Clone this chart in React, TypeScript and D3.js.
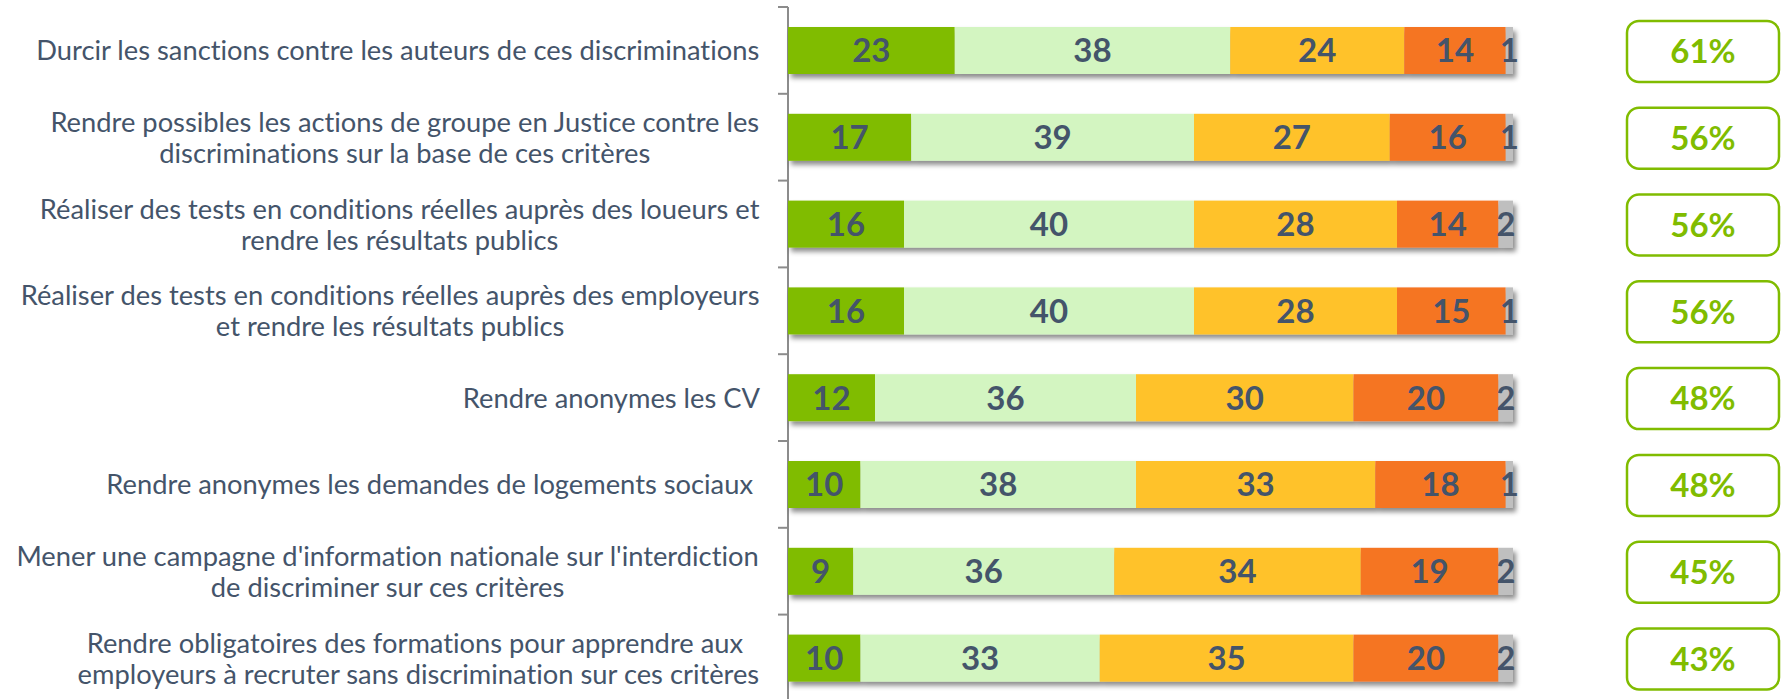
import React from "react";
import * as d3 from "d3";

const categories: string[][] = [
  ["Durcir les sanctions contre les auteurs de ces discriminations"],
  ["Rendre possibles les actions de groupe en Justice contre les", "discriminations sur la base de ces critères"],
  ["Réaliser des tests en conditions réelles auprès des loueurs et", "rendre les résultats publics"],
  ["Réaliser des tests en conditions réelles auprès des employeurs", "et rendre les résultats publics"],
  ["Rendre anonymes les CV"],
  ["Rendre anonymes les demandes de logements sociaux "],
  ["Mener une campagne d'information nationale sur l'interdiction", "de discriminer sur ces critères"],
  ["Rendre obligatoires des formations pour apprendre aux ", "employeurs à recruter sans discrimination sur ces critères"],
];

const tresEfficace = [23, 17, 16, 16, 12, 10, 9, 10];
const plutotEfficace = [38, 39, 40, 40, 36, 38, 36, 33];
const plutotPasEfficace = [24, 27, 28, 28, 30, 33, 34, 35];
const pasDuToutEfficace = [14, 16, 14, 15, 20, 18, 19, 20];
const nsp = [1, 1, 2, 1, 2, 1, 2, 2];
const totalEfficace = ["61%", "56%", "56%", "56%", "48%", "48%", "45%", "43%"];

const seriesColors = ["#80BC00", "#D3F5C1", "#FFC22A", "#F57524", "#BFBFBF"];
const textColor = "#44546A";
const W = 1787;
const H = 699;

const labelFont = "Lato, 'Open Sans', sans-serif";
const labelSize = 27.3;

function measure(text: string, font: string): number {
  if (typeof document === "undefined") return text.length * 11;
  const c = document.createElement("canvas");
  const ctx = c.getContext("2d");
  if (!ctx) return text.length * 11;
  ctx.font = font;
  return ctx.measureText(text).width;
}

export default function App() {
  const series = [tresEfficace, plutotEfficace, plutotPasEfficace, pasDuToutEfficace, nsp];
  const idx = categories.map((_, i) => i);
  const yb = d3.scaleBand<number>().domain(idx).range([7, 7 + 86.8 * 8]);
  const x = d3.scaleLinear().domain([0, 100]).range([788, 1513]);

  const rows = idx.map((i) => {
    let acc = 0;
    return series.map((s, k) => {
      const x0 = acc;
      acc += s[i];
      return { k, x0, x1: acc, v: s[i] };
    });
  });

  const labelRight = 760;

  return (
    <div style={{ position: "fixed", left: 0, top: 0 }}>
      <svg width={W} height={H} style={{ display: "block", background: "#fff", fontVariantLigatures: "none" }}>
        <defs>
          <filter id="sh" x="-5%" y="-30%" width="115%" height="180%">
            <feDropShadow dx="3" dy="4" stdDeviation="2.5" floodColor="#000" floodOpacity="0.45" />
          </filter>
        </defs>
        <line x1={788} x2={788} y1={7} y2={7 + 86.8 * 8} stroke="#8C8C8C" strokeWidth={2} />
        {d3.range(9).map((t) => (
          <line key={t} x1={778} x2={788} y1={7 + 86.8 * t} y2={7 + 86.8 * t} stroke="#8C8C8C" strokeWidth={2} />
        ))}
        {idx.map((i) => {
          const by = (yb(i) as number) + 20;
          const bh = 47;
          return (
            <g key={i}>
              <g filter="url(#sh)">
                {rows[i].map((seg) => (
                  <rect key={seg.k} x={x(seg.x0)} y={by} width={x(seg.x1) - x(seg.x0)} height={bh} fill={seriesColors[seg.k]} />
                ))}
              </g>
              {rows[i].map((seg) => (
                <text
                  key={"t" + seg.k}
                  x={(x(seg.x0) + x(seg.x1)) / 2}
                  y={by + bh / 2}
                  dy="0.36em"
                  textAnchor="middle"
                  fontFamily={labelFont}
                  fontWeight={700}
                  fontSize={33}
                  fill={textColor}
                >
                  {seg.v}
                </text>
              ))}
            </g>
          );
        })}
        {idx.map((i) => {
          const lines = categories[i];
          const maxW = Math.max(...lines.map((l) => measure(l, `${labelSize}px ${labelFont}`)));
          const cx = labelRight - maxW / 2;
          const cy = (yb(i) as number) + yb.bandwidth() / 2 + 0.5;
          const lh = 31;
          return (
            <text key={"c" + i} fontFamily={labelFont} fontSize={labelSize} fill={textColor} textAnchor="middle" style={{ whiteSpace: "pre", fontVariantLigatures: "none" }}>
              {lines.map((l, j) => (
                <tspan key={j} x={cx} y={cy + (j - (lines.length - 1) / 2) * lh} dy="0.35em">
                  {l}
                </tspan>
              ))}
            </text>
          );
        })}
        {idx.map((i) => {
          const cy = (yb(i) as number) + yb.bandwidth() / 2 + 1;
          return (
            <g key={"b" + i}>
              <rect x={1627} y={cy - 30.5} width={152} height={61} rx={12} ry={12} fill="#fff" stroke="#80BC00" strokeWidth={2.5} />
              <text x={1703} y={cy} dy="0.36em" textAnchor="middle" fontFamily={labelFont} fontWeight={700} fontSize={33} fill="#80BC00">
                {totalEfficace[i]}
              </text>
            </g>
          );
        })}
      </svg>
    </div>
  );
}
